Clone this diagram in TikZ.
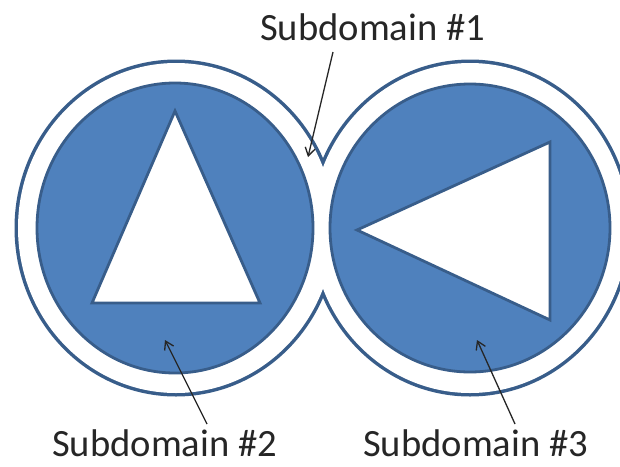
\documentclass[tikz,border=0pt]{standalone}
\usepackage{fontspec}
\setmainfont{Carlito}
\usetikzlibrary{arrows.meta}
\definecolor{fillblue}{HTML}{4F81BD}
\definecolor{edgeblue}{HTML}{385D8A}
\definecolor{textgray}{HTML}{262626}
\tikzset{
  outeredge/.style={draw=edgeblue, line width=7pt},
  innerdisk/.style={fill=fillblue, draw=edgeblue, line width=2.8pt},
  hole/.style={fill=white, draw=edgeblue, line width=2.8pt, line join=miter},
  label/.style={inner sep=0pt, anchor=base west, text=textgray, font=\fontsize{38.6}{46}\selectfont},
  pointer/.style={draw=textgray, line width=1.3pt, -{Straight Barb[length=8pt,width=10pt,line width=1.3pt]}}
}
\begin{document}
\begin{tikzpicture}[x=1pt,y=-1pt]
\useasboundingbox (0,0) rectangle (620,466);
\fill[white] (0,0) rectangle (620,466);
\clip (0,0) rectangle (620,466);
% outer white band with outline
\path[outeredge] (176,228) ellipse [x radius=158pt, y radius=165pt];
\path[outeredge] (470,228) ellipse [x radius=158pt, y radius=165pt];
\fill[white] (176,228) ellipse [x radius=158pt, y radius=165pt];
\fill[white] (470,228) ellipse [x radius=158pt, y radius=165pt];
% inner subdomains
\path[innerdisk] (175,228) ellipse [x radius=138pt, y radius=145pt];
\path[innerdisk] (470,228) ellipse [x radius=140pt, y radius=144pt];
% holes
\path[hole] (175,111) -- (260,303) -- (92,303) -- cycle;
\path[hole] (550,142) -- (550,320) -- (357,230) -- cycle;
% labels
\node[label] (l1) at (260,40) {Subdomain \#1};
\node[label] (l2) at (52,456) {Subdomain \#2};
\node[label] (l3) at (363,456) {Subdomain \#3};
% pointers
\coordinate (s1) at (333,52);
\coordinate (t1) at (308,157);
\coordinate (s2) at (207,424);
\coordinate (t2) at (165,340);
\coordinate (s3) at (515,424);
\coordinate (t3) at (477,340);
\draw[pointer] (s1) -- (t1);
\draw[pointer] (s2) -- (t2);
\draw[pointer] (s3) -- (t3);
\end{tikzpicture}
\end{document}
